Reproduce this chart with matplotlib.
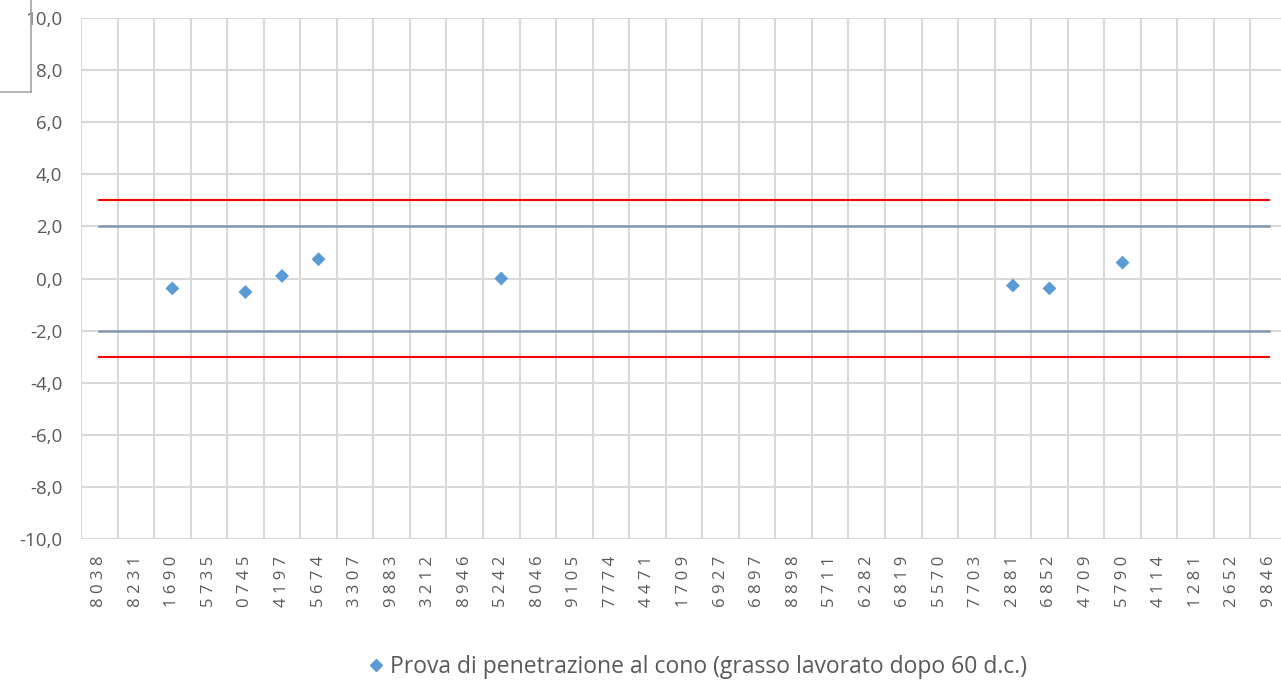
import numpy as np
import matplotlib
matplotlib.use("Agg")
import matplotlib.pyplot as plt
from matplotlib.lines import Line2D

# ── Data ─────────────────────────────────────────────────────────────────────
codes = ["8038", "8231", "1690", "5735", "0745", "4197", "5674", "3307", "9883",
         "3212", "8946", "5242", "8046", "9105", "7774", "4471", "1709", "6927",
         "6897", "8898", "5711", "6282", "6819", "5570", "7703", "2881", "6852",
         "4709", "5790", "4114", "1281", "2652", "9846"]
point_codes = ["1690", "0745", "4197", "5674", "5242", "2881", "6852", "5790"]
point_values = [-0.38, -0.52, 0.10, 0.74, 0.0, -0.27, -0.38, 0.61]
limit_outer = 3.0
limit_inner = 2.0
series_label = "Prova di penetrazione al cono (grasso lavorato dopo 60 d.c.)"

plt.rcParams["font.family"] = ["Open Sans", "DejaVu Sans"]
text_col = "#595959"
grid_col = "#d9d9d9"

fig = plt.figure(figsize=(12.81, 6.82), dpi=100)
W, H = 1281, 682
left, right, top, bottom = 81, 1287, 18, 539
ax = fig.add_axes([left / W, 1 - bottom / H, (right - left) / W, (bottom - top) / H])

n = len(codes)
x = np.arange(n)
ax.set_xlim(-0.5, n - 0.5)
ax.set_ylim(-10, 10)

# gridlines at category boundaries and every 2 units
for b in np.arange(-0.5, n, 1.0):
    ax.axvline(b, color=grid_col, lw=1.5, zorder=0)
for yv in np.arange(-10, 11, 2):
    ax.axhline(yv, color=grid_col, lw=1.5, zorder=0)

# limit lines from first to last category
for lim in (limit_outer, -limit_outer):
    ax.plot([x[0], x[-1]], [lim, lim], color="#ff0000", lw=1.5, zorder=2)
for lim in (limit_inner, -limit_inner):
    ax.plot([x[0], x[-1]], [lim, lim], color="#8497b0", lw=1.8, zorder=2)

px = [codes.index(c) for c in point_codes]
ax.scatter(px, point_values, marker="D", s=50, color="#5b9bd5", zorder=3,
           edgecolors="none")

for s in ax.spines.values():
    s.set_visible(False)

ax.set_yticks(np.arange(-10, 11, 2))
ax.set_yticklabels([f"{v:.1f}".replace(".", ",") for v in np.arange(-10, 11, 2)],
                   fontsize=13.5, color=text_col)
ax.set_xticks(x)
# spaced digits, like the wide letter spacing of the original labels
ax.set_xticklabels([" ".join(c) for c in codes], rotation=90, fontsize=12,
                   color=text_col)
ax.tick_params(axis="both", length=0)
ax.tick_params(axis="x", pad=12)
ax.tick_params(axis="y", pad=13.5)

# legend
handle = Line2D([], [], marker="D", color="#5b9bd5", linestyle="none", markersize=6.5)
fig.legend([handle], [series_label], loc="center", bbox_to_anchor=(0.543, 1 - 667 / H),
           frameon=False, fontsize=16.5, labelcolor=text_col, handletextpad=0.1,
           handlelength=1.0)

# stray box edge at top-left
fig.add_artist(Line2D([31 / W, 31 / W], [1, 1 - 92 / H], color="#a6a6a6", lw=1.2,
                      transform=fig.transFigure))
fig.add_artist(Line2D([0, 31 / W], [1 - 92 / H, 1 - 92 / H], color="#a6a6a6", lw=1.2,
                      transform=fig.transFigure))

fig.savefig("out.png", dpi=100)
